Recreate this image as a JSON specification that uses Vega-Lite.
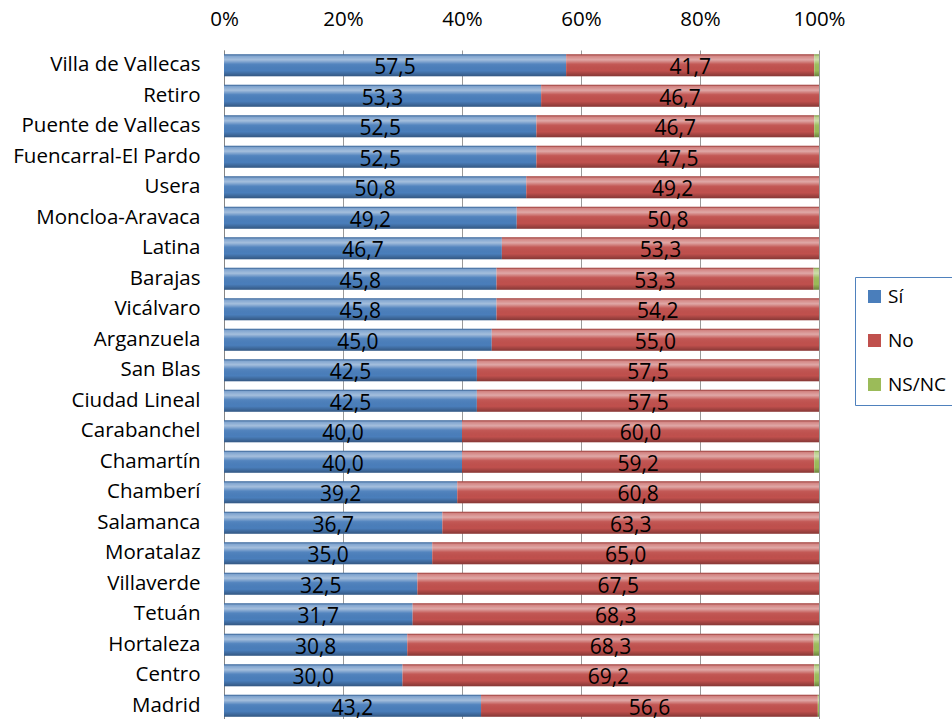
{
  "$schema": "https://vega.github.io/schema/vega-lite/v6.json",
  "autosize": {"type": "none"},
  "padding": {"left": 224, "top": 50, "right": 133, "bottom": 0},
  "width": 595,
  "height": 671,
  "background": "white",
  "config": {
    "font": "Open Sans",
    "view": {"stroke": null},
    "locale": {"number": {"decimal": ",", "thousands": ".", "grouping": [3], "currency": ["", " €"]}}
  },
  "data": {"values": [
    {"d": "Villa de Vallecas", "k": "Sí", "o": 1, "v": 57.5},
    {"d": "Villa de Vallecas", "k": "No", "o": 2, "v": 41.7},
    {"d": "Villa de Vallecas", "k": "NS/NC", "o": 3, "v": 0.8},
    {"d": "Retiro", "k": "Sí", "o": 1, "v": 53.3},
    {"d": "Retiro", "k": "No", "o": 2, "v": 46.7},
    {"d": "Retiro", "k": "NS/NC", "o": 3, "v": 0},
    {"d": "Puente de Vallecas", "k": "Sí", "o": 1, "v": 52.5},
    {"d": "Puente de Vallecas", "k": "No", "o": 2, "v": 46.7},
    {"d": "Puente de Vallecas", "k": "NS/NC", "o": 3, "v": 0.8},
    {"d": "Fuencarral-El Pardo", "k": "Sí", "o": 1, "v": 52.5},
    {"d": "Fuencarral-El Pardo", "k": "No", "o": 2, "v": 47.5},
    {"d": "Fuencarral-El Pardo", "k": "NS/NC", "o": 3, "v": 0},
    {"d": "Usera", "k": "Sí", "o": 1, "v": 50.8},
    {"d": "Usera", "k": "No", "o": 2, "v": 49.2},
    {"d": "Usera", "k": "NS/NC", "o": 3, "v": 0},
    {"d": "Moncloa-Aravaca", "k": "Sí", "o": 1, "v": 49.2},
    {"d": "Moncloa-Aravaca", "k": "No", "o": 2, "v": 50.8},
    {"d": "Moncloa-Aravaca", "k": "NS/NC", "o": 3, "v": 0},
    {"d": "Latina", "k": "Sí", "o": 1, "v": 46.7},
    {"d": "Latina", "k": "No", "o": 2, "v": 53.3},
    {"d": "Latina", "k": "NS/NC", "o": 3, "v": 0},
    {"d": "Barajas", "k": "Sí", "o": 1, "v": 45.8},
    {"d": "Barajas", "k": "No", "o": 2, "v": 53.3},
    {"d": "Barajas", "k": "NS/NC", "o": 3, "v": 0.9},
    {"d": "Vicálvaro", "k": "Sí", "o": 1, "v": 45.8},
    {"d": "Vicálvaro", "k": "No", "o": 2, "v": 54.2},
    {"d": "Vicálvaro", "k": "NS/NC", "o": 3, "v": 0},
    {"d": "Arganzuela", "k": "Sí", "o": 1, "v": 45.0},
    {"d": "Arganzuela", "k": "No", "o": 2, "v": 55.0},
    {"d": "Arganzuela", "k": "NS/NC", "o": 3, "v": 0},
    {"d": "San Blas", "k": "Sí", "o": 1, "v": 42.5},
    {"d": "San Blas", "k": "No", "o": 2, "v": 57.5},
    {"d": "San Blas", "k": "NS/NC", "o": 3, "v": 0},
    {"d": "Ciudad Lineal", "k": "Sí", "o": 1, "v": 42.5},
    {"d": "Ciudad Lineal", "k": "No", "o": 2, "v": 57.5},
    {"d": "Ciudad Lineal", "k": "NS/NC", "o": 3, "v": 0},
    {"d": "Carabanchel", "k": "Sí", "o": 1, "v": 40.0},
    {"d": "Carabanchel", "k": "No", "o": 2, "v": 60.0},
    {"d": "Carabanchel", "k": "NS/NC", "o": 3, "v": 0},
    {"d": "Chamartín", "k": "Sí", "o": 1, "v": 40.0},
    {"d": "Chamartín", "k": "No", "o": 2, "v": 59.2},
    {"d": "Chamartín", "k": "NS/NC", "o": 3, "v": 0.8},
    {"d": "Chamberí", "k": "Sí", "o": 1, "v": 39.2},
    {"d": "Chamberí", "k": "No", "o": 2, "v": 60.8},
    {"d": "Chamberí", "k": "NS/NC", "o": 3, "v": 0},
    {"d": "Salamanca", "k": "Sí", "o": 1, "v": 36.7},
    {"d": "Salamanca", "k": "No", "o": 2, "v": 63.3},
    {"d": "Salamanca", "k": "NS/NC", "o": 3, "v": 0},
    {"d": "Moratalaz", "k": "Sí", "o": 1, "v": 35.0},
    {"d": "Moratalaz", "k": "No", "o": 2, "v": 65.0},
    {"d": "Moratalaz", "k": "NS/NC", "o": 3, "v": 0},
    {"d": "Villaverde", "k": "Sí", "o": 1, "v": 32.5},
    {"d": "Villaverde", "k": "No", "o": 2, "v": 67.5},
    {"d": "Villaverde", "k": "NS/NC", "o": 3, "v": 0},
    {"d": "Tetuán", "k": "Sí", "o": 1, "v": 31.7},
    {"d": "Tetuán", "k": "No", "o": 2, "v": 68.3},
    {"d": "Tetuán", "k": "NS/NC", "o": 3, "v": 0},
    {"d": "Hortaleza", "k": "Sí", "o": 1, "v": 30.8},
    {"d": "Hortaleza", "k": "No", "o": 2, "v": 68.3},
    {"d": "Hortaleza", "k": "NS/NC", "o": 3, "v": 0.9},
    {"d": "Centro", "k": "Sí", "o": 1, "v": 30.0},
    {"d": "Centro", "k": "No", "o": 2, "v": 69.2},
    {"d": "Centro", "k": "NS/NC", "o": 3, "v": 0.8},
    {"d": "Madrid", "k": "Sí", "o": 1, "v": 43.2},
    {"d": "Madrid", "k": "No", "o": 2, "v": 56.6},
    {"d": "Madrid", "k": "NS/NC", "o": 3, "v": 0.2}
  ]},
  "encoding": {
    "y": {
      "field": "d", "type": "nominal", "sort": null,
      "scale": {"paddingInner": 0.28, "paddingOuter": 0.14},
      "axis": {"title": null, "ticks": false, "domain": true, "domainColor": "#868686", "labelPadding": 24, "labelFontSize": 20.5, "labelColor": "#000000", "labelFont": "Open Sans", "labelLimit": 300}
    },
    "x": {
      "field": "v", "type": "quantitative", "stack": "zero",
      "scale": {"domain": [0, 100], "nice": false},
      "axis": {"orient": "top", "title": null, "values": [0, 20, 40, 60, 80, 100], "labelExpr": "datum.value + '%'", "grid": true, "gridColor": "#9a9a9a", "ticks": false, "domain": false, "labelPadding": 21, "labelFontSize": 20.5, "labelColor": "#000000", "labelFont": "Open Sans", "labelFlush": false}
    },
    "order": {"field": "o", "type": "quantitative"}
  },
  "layer": [
    {
      "mark": {"type": "bar"},
      "encoding": {
        "color": {
          "field": "k", "type": "nominal",
          "scale": {"domain": ["Sí", "No", "NS/NC"], "range": ["#4A7EBB", "#C0504D", "#9BBB59"]},
          "legend": {
            "orient": "none", "legendX": 631, "legendY": 227, "title": null,
            "symbolType": "square", "symbolSize": 169, "symbolStrokeWidth": 0, "symbolOpacity": 1,
            "labelFontSize": 19, "labelColor": "#000000", "labelFont": "Open Sans", "labelOffset": 4,
            "rowPadding": 24, "padding": 10, "strokeColor": "#4F81BD", "fillColor": "#ffffff",
            "labelLimit": 200
          }
        }
      }
    },
    {
      "mark": {
        "type": "bar",
        "fill": {"gradient": "linear", "x1": 0, "y1": 0, "x2": 0, "y2": 1, "stops": [
          {"offset": 0, "color": "rgba(0,0,0,0.15)"},
          {"offset": 0.08, "color": "rgba(255,255,255,0.3)"},
          {"offset": 0.25, "color": "rgba(255,255,255,0.5)"},
          {"offset": 0.45, "color": "rgba(255,255,255,0.05)"},
          {"offset": 0.75, "color": "rgba(0,0,0,0.0)"},
          {"offset": 1, "color": "rgba(0,0,0,0.3)"}
        ]}
      },
      "encoding": {"detail": {"field": "k", "type": "nominal"}}
    },
    {
      "transform": [{"filter": "datum.k != 'NS/NC'"}],
      "mark": {"type": "text", "fontSize": 21, "color": "#000000", "baseline": "middle", "dy": 3, "font": "Open Sans"},
      "encoding": {
        "x": {"field": "v", "type": "quantitative", "stack": "zero", "bandPosition": 0.5},
        "detail": {"field": "k", "type": "nominal"},
        "text": {"field": "v", "type": "quantitative", "format": ".1f"}
      }
    }
  ]
}
